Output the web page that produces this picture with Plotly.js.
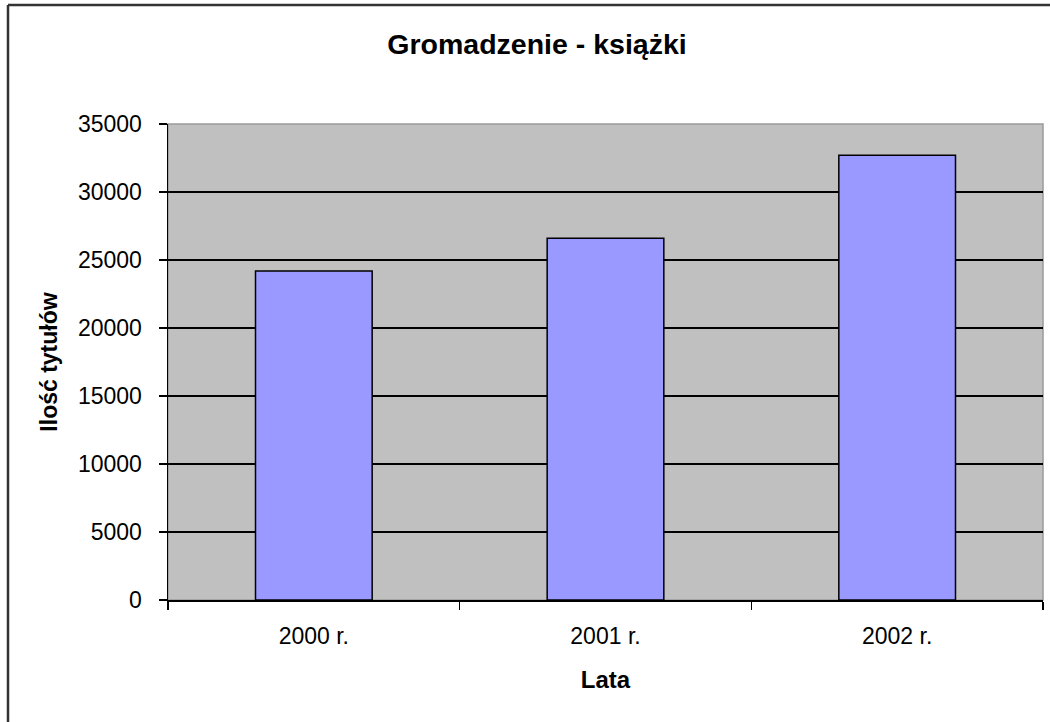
<!DOCTYPE html>
<html>
<head>
<meta charset="utf-8">
<script src="https://cdn.plot.ly/plotly-3.0.1.min.js"></script>
<style>html,body{margin:0;padding:0;background:#fff;}#chart{width:1050px;height:722px;}</style>
</head>
<body>
<div id="chart"></div>
<script>
const categories = ["2000 r.", "2001 r.", "2002 r."];
const values = [24200, 26600, 32700];
const yTicks = [0, 5000, 10000, 15000, 20000, 25000, 30000, 35000];
const chartTitle = "Gromadzenie - książki";
const xTitle = "Lata";
const yTitle = "Ilość tytułów";

const L = 168, R = 1043, T = 124, B = 600, W = 1050, H = 722;
const px = v => (v - L) / (R - L);
const py = v => (B - v) / (B - T);
const FONT = "Liberation Sans, Arial, sans-serif";

const trace = {
  type: "bar",
  x: categories,
  y: values,
  marker: { color: "#9999FF", line: { color: "#000000", width: 1.5 } },
  hoverinfo: "x+y"
};

const layout = {
  width: W, height: H,
  margin: { l: L, r: W - R, t: T, b: H - B, pad: 0 },
  paper_bgcolor: "#ffffff",
  plot_bgcolor: "#C0C0C0",
  showlegend: false,
  bargap: 0.6,
  font: { family: FONT, color: "#000000" },
  title: {
    text: chartTitle,
    font: { family: FONT, size: 28.5, color: "#000000", weight: "bold" },
    x: 537 / W, xanchor: "center", xref: "container",
    y: 1 - 44 / H, yanchor: "middle", yref: "container"
  },
  xaxis: {
    type: "category",
    tickson: "boundaries",
    ticks: "outside", ticklen: 8, tickwidth: 1.5, tickcolor: "#000000",
    showline: true, linecolor: "#000000", linewidth: 1.5,
    showgrid: false,
    tickfont: { family: FONT, size: 23, color: "#000000" },
    ticklabelstandoff: 15,
    title: { text: xTitle, font: { family: FONT, size: 24, color: "#000000", weight: "bold" }, standoff: 23 },
    range: [-0.5, 2.5],
    fixedrange: true
  },
  yaxis: {
    range: [0, 35000],
    tickvals: yTicks,
    ticktext: yTicks.map(String),
    ticks: "outside", ticklen: 8, tickwidth: 1.5, tickcolor: "#000000",
    showline: true, linecolor: "#000000", linewidth: 1.5,
    showgrid: true, gridcolor: "#000000", gridwidth: 1.5,
    zeroline: false,
    tickfont: { family: FONT, size: 23, color: "#000000" },
    ticklabelstandoff: 12,
    title: { text: yTitle, font: { family: FONT, size: 23, color: "#000000", weight: "bold" }, standoff: 14 },
    fixedrange: true
  },
  shapes: [
    { type: "rect", xref: "paper", yref: "paper", x0: 0, x1: 1, y0: 0, y1: 1,
      line: { color: "#9a9a9a", width: 1.5 }, fillcolor: "rgba(0,0,0,0)", layer: "below" },
    { type: "line", xref: "paper", yref: "paper", x0: px(8), x1: px(8), y0: py(5), y1: py(730),
      line: { color: "#333333", width: 2.5 } },
    { type: "line", xref: "paper", yref: "paper", x0: px(8), x1: px(1060), y0: py(5), y1: py(5),
      line: { color: "#333333", width: 2.5 } }
  ]
};

Plotly.newPlot("chart", [trace], layout, { displayModeBar: false, staticPlot: true });
</script>
</body>
</html>
